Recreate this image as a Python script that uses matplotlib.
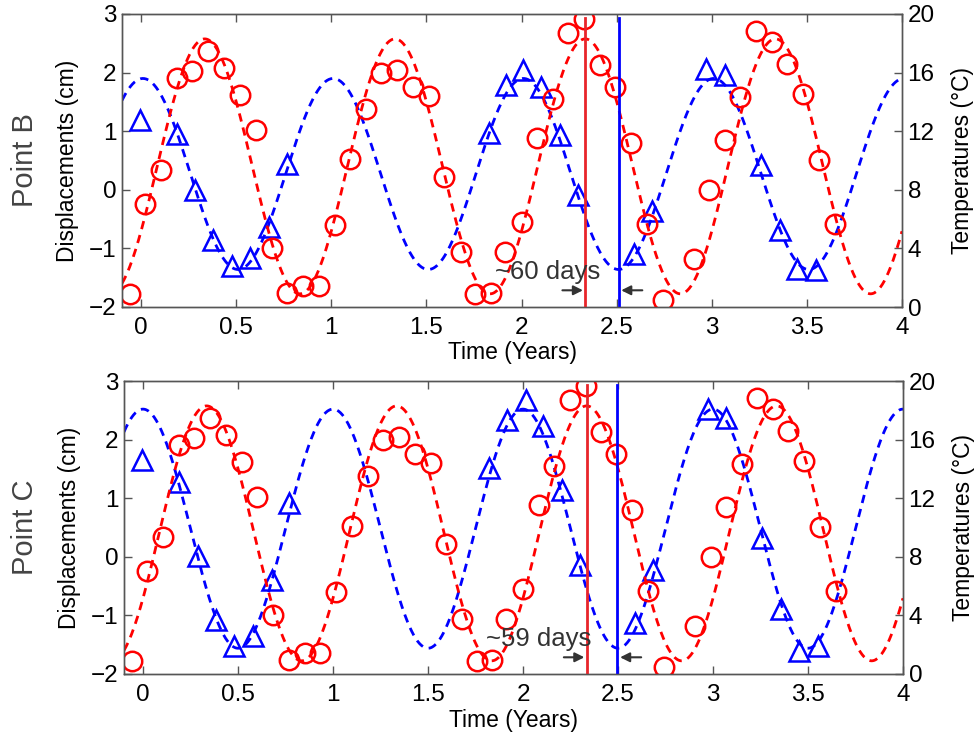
import numpy as np
import matplotlib
matplotlib.use("Agg")
import matplotlib.pyplot as plt

plt.rcParams['font.family'] = ['Liberation Sans', 'DejaVu Sans']

# ---------------- data ----------------
# Temperature observations (same in both panels), time in years, temperature in degC
temp_t = [-0.057, 0.023, 0.106, 0.187, 0.27, 0.35, 0.435, 0.521, 0.602, 0.686,
          0.769, 0.85, 0.933, 1.018, 1.10, 1.184, 1.263, 1.345, 1.431, 1.516,
          1.595, 1.68, 1.758, 1.838, 1.912, 2.0, 2.083, 2.163, 2.246, 2.33,
          2.413, 2.492, 2.576, 2.659, 2.743, 2.905, 2.988, 3.069, 3.151, 3.23,
          3.315, 3.397, 3.48, 3.564, 3.648]
temp_v = [0.9, 7.06, 9.34, 15.6, 16.1, 17.5, 16.3, 14.5, 12.1, 4.0,
          0.98, 1.41, 1.41, 5.58, 10.07, 13.5, 15.96, 16.2, 15.0, 14.4,
          8.9, 3.76, 0.9, 0.93, 3.77, 5.83, 11.54, 14.2, 18.67, 19.66,
          16.5, 15.04, 11.2, 5.65, 0.46, 3.25, 8.0, 11.43, 14.35, 18.86,
          18.06, 16.57, 14.51, 10.01, 5.67]

# Displacement observations, Point B
dispB_t = [-0.004, 0.187, 0.284, 0.38, 0.477, 0.574, 0.673, 0.769,
           1.828, 1.917, 2.009, 2.105, 2.202, 2.299, 2.589, 2.685,
           2.972, 3.069, 3.26, 3.357, 3.45, 3.547]
dispB_v = [1.19, 0.96, 0.005, -0.86, -1.305, -1.17, -0.633, 0.437,
           0.97, 1.78, 2.05, 1.75, 0.93, -0.085, -1.10, -0.355,
           2.06, 1.955, 0.43, -0.685, -1.36, -1.37]

# Displacement observations, Point C
dispC_t = [-0.004, 0.19, 0.287, 0.384, 0.48, 0.58, 0.678, 0.771,
           1.822, 1.916, 2.014, 2.105, 2.207, 2.299, 2.589, 2.685,
           2.972, 3.067, 3.26, 3.357, 3.455, 3.55]
dispC_v = [1.65, 1.27, 0.006, -1.07, -1.52, -1.36, -0.39, 0.915,
           1.52, 2.33, 2.67, 2.23, 1.14, -0.14, -1.13, -0.22,
           2.53, 2.37, 0.315, -0.89, -1.61, -1.52]

# Fitted annual sinusoids: (mean, amplitude, phase of maximum in years)
temp_fit = (9.6, 8.7, 0.335)
dispB_fit = (0.27, 1.63, 0.01)
dispC_fit = (0.48, 2.04, 0.0)

# Vertical markers: temperature peak and displacement trough
temp_peak = 2.335
dispB_trough = 2.51
dispC_trough = 2.497
line_top_T = 19.7

panel_names = ["Point B", "Point C"]
lag_labels = ["~60 days", "~59 days"]

x_ticks = [0, 0.5, 1, 1.5, 2, 2.5, 3, 3.5, 4]
x_ticklabels = ["0", "0.5", "1", "1.5", "2", "2.5", "3", "3.5", "4"]
d_ticks = [-2, -1, 0, 1, 2, 3]
T_ticks = [0, 4, 8, 12, 16, 20]

# ---------------- plotting ----------------
fig = plt.figure(figsize=(9.74, 7.35), dpi=100)

axes_rects = [
    [122/974, 1-307/735, (902-122)/974, (307-14)/735],
    [124/974, 1-674/735, (903-124)/974, (674-381)/735],
]

panels = [
    (dispB_t, dispB_v, dispB_fit, dispB_trough),
    (dispC_t, dispC_v, dispC_fit, dispC_trough),
]

tt = np.linspace(-0.1, 4.0, 800)
spine_col = '#555555'
red = '#ff0000'
blue = '#0000ff'
tick_fs = 17.5
label_fs = 16.5

for i, (dt, dv, dfit, dtr) in enumerate(panels):
    ax = fig.add_axes(axes_rects[i])
    ax2 = ax.twinx()

    # displacement (left axis)
    m, a, p = dfit
    ax.plot(tt, m + a*np.cos(2*np.pi*(tt - p)), color=blue, lw=2.0,
            linestyle=(0, (3.0, 2.2)))
    ax.plot(dt, dv, linestyle='none', marker='^', markersize=15,
            markerfacecolor='none', markeredgecolor=blue, markeredgewidth=1.8)

    # temperature (right axis)
    m, a, p = temp_fit
    ax2.plot(tt, m + a*np.cos(2*np.pi*(tt - p)), color=red, lw=2.0,
             linestyle=(0, (3.0, 2.2)))
    ax2.plot(temp_t, temp_v, linestyle='none', marker='o', markersize=14,
             markerfacecolor='none', markeredgecolor=red, markeredgewidth=1.8)

    ax2.plot([temp_peak, temp_peak], [0, line_top_T], color='#e8252a', lw=2.0)
    ax2.plot([dtr, dtr], [0, line_top_T], color=blue, lw=2.0)

    # lag annotation
    ax2.annotate('', xy=(temp_peak - 0.012, 1.14), xytext=(temp_peak - 0.12, 1.14),
                 arrowprops=dict(arrowstyle='-|>', color='#333333', lw=1.5,
                                 mutation_scale=14, shrinkA=0, shrinkB=0))
    ax2.annotate('', xy=(dtr + 0.014, 1.14), xytext=(dtr + 0.125, 1.14),
                 arrowprops=dict(arrowstyle='-|>', color='#333333', lw=1.5,
                                 mutation_scale=14, shrinkA=0, shrinkB=0))
    ax2.text(2.135 - 0.05*i, 2.42, lag_labels[i], ha='center', va='center',
             fontsize=18.5, color='#333333')

    ax.set_xlim(-0.1, 4.0)
    ax.set_ylim(-2, 3)
    ax2.set_ylim(0, 20)
    ax.set_xticks(x_ticks)
    ax.set_xticklabels(x_ticklabels)
    ax.set_yticks(d_ticks)
    ax.set_yticklabels([str(v) if v >= 0 else '\u2212' + str(-v) for v in d_ticks])
    ax2.set_yticks(T_ticks)

    ax.tick_params(axis='x', direction='in', top=True, length=6, width=1,
                   color=spine_col, labelsize=tick_fs, pad=7)
    ax.tick_params(axis='y', direction='in', length=6, width=1,
                   color=spine_col, labelsize=tick_fs, pad=4)
    ax2.tick_params(axis='y', direction='in', length=6, width=1,
                    color=spine_col, labelsize=tick_fs, pad=4)
    for a_ in (ax, ax2):
        for s in a_.spines.values():
            s.set_color(spine_col)
            s.set_linewidth(1.0)

    ax.set_xlabel("Time (Years)", fontsize=label_fs, labelpad=2)
    ax.set_ylabel("Displacements (cm)", fontsize=label_fs, labelpad=7)
    ax2.set_ylabel("Temperatures (\u00b0C)", fontsize=label_fs, labelpad=12)

    cy = axes_rects[i][1] + axes_rects[i][3]/2
    fig.text(25/974, cy, panel_names[i], rotation=90, ha='center', va='center',
             fontsize=21, color='#444444')

fig.savefig("out.png", dpi=100)
